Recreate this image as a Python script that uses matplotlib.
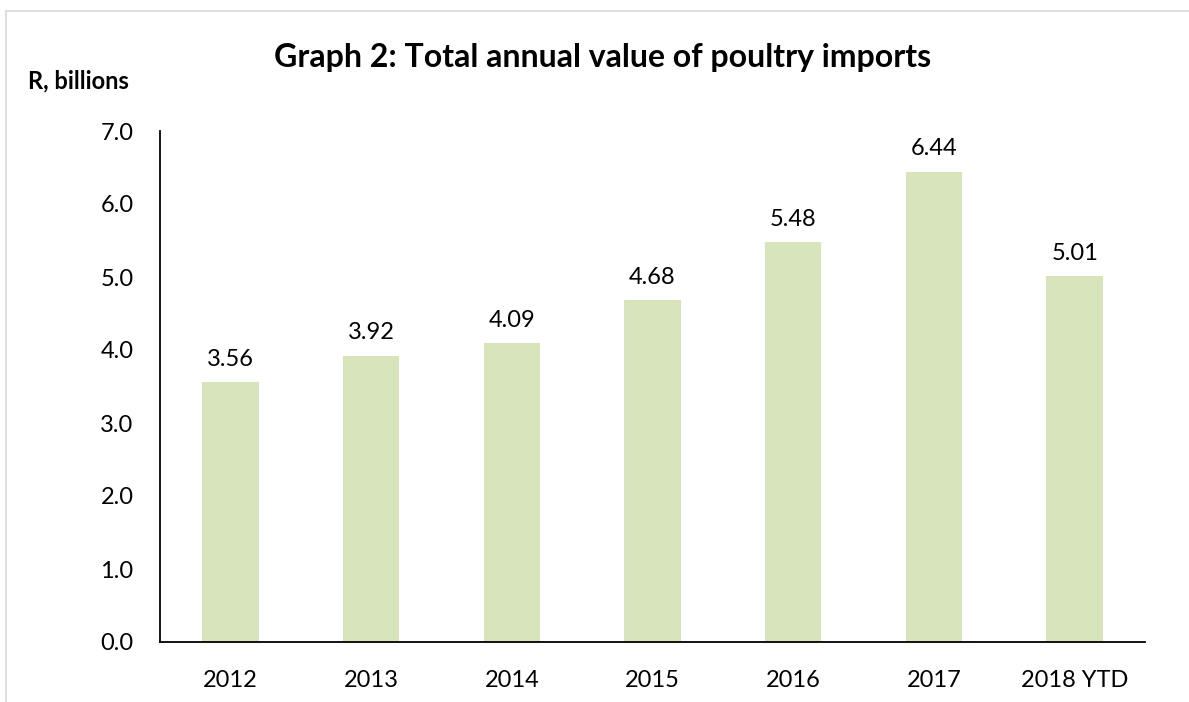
import matplotlib
matplotlib.use("Agg")
import matplotlib.pyplot as plt
from matplotlib.lines import Line2D

categories = ["2012", "2013", "2014", "2015", "2016", "2017", "2018 YTD"]
values = [3.56, 3.92, 4.09, 4.68, 5.48, 6.44, 5.01]
yticks = [0.0, 1.0, 2.0, 3.0, 4.0, 5.0, 6.0, 7.0]

plt.rcParams['font.family'] = ['Lato', 'DejaVu Sans']

W, H = 1189, 702
fig = plt.figure(figsize=(W / 100, H / 100), dpi=100)
ax = fig.add_axes([160 / W, 1 - 642 / H, (1145 - 160) / W, (642 - 131) / H])

x = list(range(len(categories)))
bars = ax.bar(x, values, width=0.4, color="#D8E4BC")
for xi, v in zip(x, values):
    ax.text(xi, v + 0.17, f"{v:.2f}", ha="center", va="bottom", fontsize=17, color="#000000")

ax.set_xlim(-0.5, len(categories) - 0.5)
ax.set_ylim(0, 7.0)
ax.set_yticks(yticks)
ax.set_yticklabels([f"{t:.1f}" for t in yticks], fontsize=17)
ax.set_xticks(x)
ax.set_xticklabels(categories, fontsize=17)
ax.tick_params(axis="both", length=0)
ax.tick_params(axis="y", pad=19)
ax.tick_params(axis="x", pad=20)
for s in ["top", "right"]:
    ax.spines[s].set_visible(False)
for s in ["left", "bottom"]:
    ax.spines[s].set_color("#000000")
    ax.spines[s].set_linewidth(1.3)

fig.text(603 / W, 1 - 57 / H, "Graph 2: Total annual value of poultry imports",
         ha="center", va="center", fontsize=23, fontweight="bold")
fig.text(28 / W, 1 - 81 / H, "R, billions", ha="left", va="center",
         fontsize=17, fontweight="bold")

# outer border (light gray)
fig.add_artist(Line2D([6 / W, 1], [1 - 11 / H, 1 - 11 / H], color="#D9D9D9", lw=1.2, transform=fig.transFigure))
fig.add_artist(Line2D([6 / W, 6 / W], [0, 1 - 11 / H], color="#D9D9D9", lw=1.2, transform=fig.transFigure))

fig.savefig("out.png", dpi=100, facecolor="white")
